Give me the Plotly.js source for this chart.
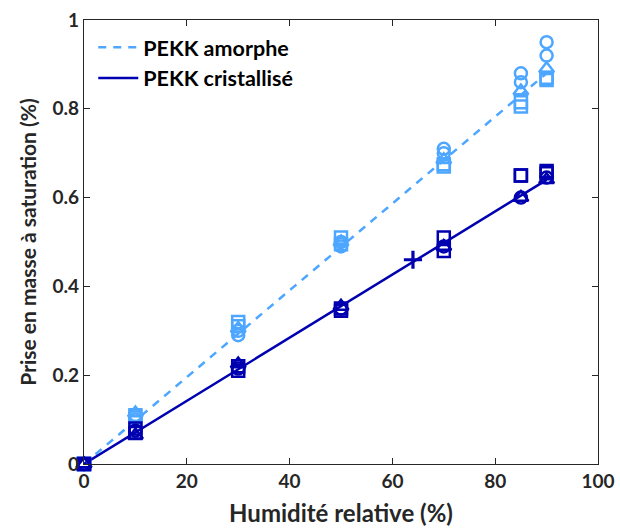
<!DOCTYPE html>
<html>
<head>
<meta charset="utf-8">
<script src="https://cdn.plot.ly/plotly-3.0.1.min.js"></script>
<style>html,body{margin:0;padding:0;background:#fff;}#chart{width:620px;height:531px;}</style>
</head>
<body>
<div id="chart"></div>
<script>
// Relative humidity (%)
const rh = [0, 10, 30, 50, 70, 85, 90];

// PEKK amorphe — measured saturation mass uptake (%)
const amoCircles1 = [0, 0.10, 0.29, 0.49, 0.71, 0.88, 0.95];
const amoCircles2 = [0, 0.11, 0.30, 0.50, 0.70, 0.86, 0.92];
const amoSquares1 = [0, 0.11, 0.32, 0.51, 0.67, 0.815, 0.87];
const amoSquares2 = [0, 0.105, 0.31, 0.495, 0.675, 0.805, 0.865];
const amoTriangles = [0, 0.115, 0.305, 0.50, 0.685, 0.84, 0.89];

// PEKK cristallisé
const criCircles = [0, 0.075, 0.215, 0.35, 0.49, 0.60, 0.645];
const criSquares1 = [0, 0.08, 0.22, 0.35, 0.51, 0.65, 0.66];
const criSquares2 = [0, 0.07, 0.21, 0.345, 0.48, 0.65, 0.655];
const criTriangles = [0, 0.065, 0.225, 0.355, 0.49, 0.60, 0.64];
const criCrossX = [64];
const criCrossY = [0.46];

// Linear fits
const fitX = [0, 90];
const amoFit = [0, 0.88];
const criFit = [0, 0.64];

const xTicks = [0, 20, 40, 60, 80, 100];
const yTicks = [0, 0.2, 0.4, 0.6, 0.8, 1];
const yTickText = ['0', '0.2', '0.4', '0.6', '0.8', '1'];

const light = '#4da6ff';
const dark = '#0000b0';

function mk(y, sym, color, size, x, w) {
  return {
    x: x || rh, y: y, type: 'scatter', mode: 'markers', showlegend: false,
    cliponaxis: false,
    marker: {symbol: sym, size: size || 12, color: color, line: {color: color, width: w || 2.5}}
  };
}

const traces = [
  {x: fitX, y: amoFit, type: 'scatter', mode: 'lines', name: 'PEKK amorphe',
   line: {color: light, width: 2.5, dash: '8px,7px'}},
  {x: fitX, y: criFit, type: 'scatter', mode: 'lines', name: 'PEKK cristallisé',
   line: {color: dark, width: 2.5}},
  mk(amoCircles1, 'circle-open', light),
  mk(amoCircles2, 'circle-open', light),
  mk(amoSquares1, 'square-open', light),
  mk(amoSquares2, 'square-open', light),
  mk(amoTriangles, 'triangle-up-open', light, 13),
  mk(criCircles, 'circle-open', dark),
  mk(criSquares1, 'square-open', dark),
  mk(criSquares2, 'square-open', dark),
  mk(criTriangles, 'triangle-up-open', dark, 13),
  mk(criCrossY, 'cross-thin-open', dark, 13, criCrossX, 3.2)
];

const FAM = 'Lato, "Open Sans", sans-serif';
const axisFont = {family: FAM, size: 19, color: '#262626', weight: 'bold'};

const layout = {
  width: 620, height: 531,
  margin: {l: 84, r: 22, t: 20, b: 67},
  paper_bgcolor: '#fff', plot_bgcolor: '#fff',
  font: {family: FAM, color: '#262626'},
  xaxis: {
    range: [0, 100], tickvals: xTicks, ticks: 'inside', ticklen: 6, tickwidth: 1,
    tickcolor: '#262626', showline: true, linecolor: '#262626', linewidth: 1.2, mirror: 'ticks',
    showgrid: false, zeroline: false, tickfont: axisFont,
    title: {text: 'Humidité relative (%)', font: {family: FAM, size: 24, color: '#262626', weight: 'bold'}, standoff: 14}
  },
  yaxis: {
    range: [0, 1], tickvals: yTicks, ticktext: yTickText, ticks: 'inside', ticklen: 6, tickwidth: 1,
    tickcolor: '#262626', showline: true, linecolor: '#262626', linewidth: 1.2, mirror: 'ticks',
    showgrid: false, zeroline: false, tickfont: axisFont,
    title: {text: 'Prise en masse à saturation (%)', font: {family: FAM, size: 21, color: '#262626', weight: 'bold'}, standoff: 10}
  },
  legend: {
    x: 0.018, y: 0.985, xanchor: 'left', yanchor: 'top', bgcolor: 'rgba(0,0,0,0)',
    font: {family: FAM, size: 21.5, color: '#000', weight: 'bold'},
    tracegroupgap: 0, itemwidth: 40
  }
};

Plotly.newPlot('chart', traces, layout, {displayModeBar: false, staticPlot: true});
</script>
</body>
</html>
